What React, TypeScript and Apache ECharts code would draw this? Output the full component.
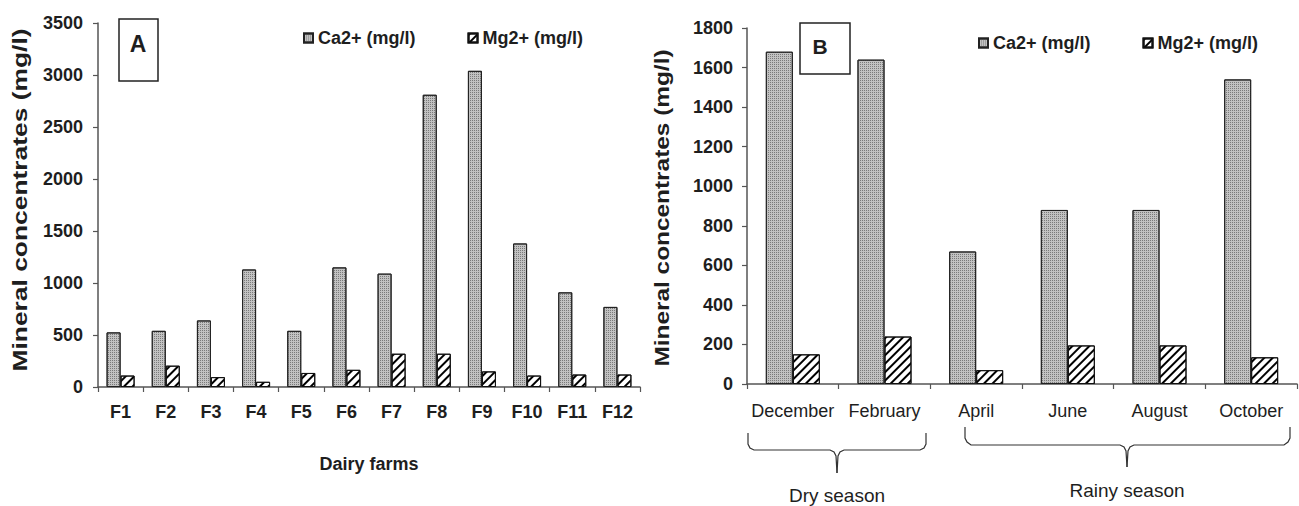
import React, { useEffect, useRef } from "react";
import * as echarts from "echarts";

const farms = ["F1", "F2", "F3", "F4", "F5", "F6", "F7", "F8", "F9", "F10", "F11", "F12"];
const caFarms = [525, 540, 640, 1130, 540, 1150, 1090, 2810, 3040, 1380, 910, 770];
const mgFarms = [110, 205, 95, 50, 135, 165, 320, 320, 150, 110, 120, 120];

const months = ["December", "February", "April", "June", "August", "October"];
const caMonths = [1680, 1640, 670, 880, 880, 1540];
const mgMonths = [150, 240, 70, 195, 195, 135];

const caName = "Ca2+ (mg/l)";
const mgName = "Mg2+ (mg/l)";
const yName = "Mineral concentrates (mg/l)";

const FONT = "'Liberation Sans', Arial, sans-serif";
const TXT = "#1e1e1e";

const caStyle = {
  color: "#c2c2c2",
  borderColor: "#222",
  borderWidth: 1,
  decal: {
    symbol: "rect",
    symbolSize: 1,
    dashArrayX: [1, 1],
    dashArrayY: [1, 1],
    color: "#7a7a7a",
    backgroundColor: null,
  },
};
const mgStyle = {
  color: "#ffffff",
  borderColor: "#111",
  borderWidth: 1,
  decal: {
    symbol: "rect",
    symbolSize: 1,
    dashArrayX: [1, 0],
    dashArrayY: [2, 4],
    rotation: -Math.PI / 4,
    color: "#000",
    backgroundColor: null,
  },
};

const axisLine = { show: true, lineStyle: { color: "#555", width: 1.5 } };
const axisTick = { show: true, length: 5, lineStyle: { color: "#555", width: 1.2 } };
const plain = (v: number) => String(v);

export default function App() {
  const ref = useRef<HTMLDivElement>(null);
  useEffect(() => {
    if (!ref.current) return;
    const chart = echarts.init(ref.current, null, { renderer: "svg" });
    const legendText = { fontSize: 18, fontWeight: "bold", color: TXT, fontFamily: FONT };
    chart.setOption({
      animation: false,
      backgroundColor: "#fff",
      textStyle: { fontFamily: FONT },
      legend: [
        {
          left: 298,
          top: 24,
          icon: "rect",
          itemWidth: 9,
          itemHeight: 9,
          itemGap: 52,
          data: [caName, mgName],
          textStyle: legendText,
        },
        {
          left: 973,
          top: 29,
          icon: "rect",
          itemWidth: 9,
          itemHeight: 9,
          itemGap: 52,
          data: [caName, mgName],
          textStyle: legendText,
        },
      ],
      grid: [
        { left: 98, top: 23, width: 542, height: 364 },
        { left: 747, top: 28, width: 550, height: 356 },
      ],
      xAxis: [
        {
          type: "category",
          gridIndex: 0,
          data: farms,
          axisLine,
          axisTick,
          axisLabel: { interval: 0, fontSize: 18, fontWeight: "bold", color: TXT, margin: 16, fontFamily: FONT },
          name: "Dairy farms",
          nameLocation: "middle",
          nameGap: 68,
          nameTextStyle: { fontSize: 18, fontWeight: "bold", color: TXT, fontFamily: FONT },
        },
        {
          type: "category",
          gridIndex: 1,
          data: months,
          axisLine,
          axisTick,
          axisLabel: { interval: 0, fontSize: 18, color: TXT, margin: 18, fontFamily: FONT },
        },
      ],
      yAxis: [
        {
          type: "value",
          gridIndex: 0,
          min: 0,
          max: 3500,
          interval: 500,
          axisLine,
          axisTick,
          splitLine: { show: false },
          axisLabel: { formatter: plain, fontSize: 18, fontWeight: "bold", color: TXT, margin: 15, fontFamily: FONT },
        },
        {
          type: "value",
          gridIndex: 1,
          min: 0,
          max: 1800,
          interval: 200,
          axisLine,
          axisTick,
          splitLine: { show: false },
          axisLabel: { formatter: plain, fontSize: 18, fontWeight: "bold", color: TXT, margin: 14, fontFamily: FONT },
        },
      ],
      series: [
        {
          type: "bar",
          name: caName,
          xAxisIndex: 0,
          yAxisIndex: 0,
          data: caFarms,
          barWidth: 14,
          barGap: "0%",
          itemStyle: caStyle,
        },
        {
          type: "bar",
          name: mgName,
          xAxisIndex: 0,
          yAxisIndex: 0,
          data: mgFarms,
          barWidth: 14,
          barGap: "0%",
          itemStyle: mgStyle,
        },
        {
          type: "bar",
          name: caName,
          xAxisIndex: 1,
          yAxisIndex: 1,
          data: caMonths,
          barWidth: 27,
          barGap: "0%",
          itemStyle: caStyle,
        },
        {
          type: "bar",
          name: mgName,
          xAxisIndex: 1,
          yAxisIndex: 1,
          data: mgMonths,
          barWidth: 27,
          barGap: "0%",
          itemStyle: mgStyle,
        },
      ],
      graphic: [
        {
          type: "text",
          x: 20,
          y: 200,
          rotation: Math.PI / 2,
          scaleX: 1.32,
          style: { text: yName, fontSize: 20, fontWeight: "bold", fill: TXT, fontFamily: FONT, align: "center", verticalAlign: "middle" },
        },
        {
          type: "text",
          x: 662,
          y: 208,
          rotation: Math.PI / 2,
          scaleX: 1.22,
          style: { text: yName, fontSize: 20, fontWeight: "bold", fill: TXT, fontFamily: FONT, align: "center", verticalAlign: "middle" },
        },
        {
          type: "rect",
          shape: { x: 119, y: 19, width: 39, height: 62 },
          style: { fill: "#fff", stroke: "#222", lineWidth: 1.5 },
        },
        {
          type: "text",
          x: 138,
          y: 44,
          style: { text: "A", fontSize: 23, fontWeight: "bold", fill: TXT, fontFamily: FONT, align: "center", verticalAlign: "middle" },
        },
        {
          type: "rect",
          shape: { x: 800, y: 23, width: 50, height: 51 },
          style: { fill: "#fff", stroke: "#222", lineWidth: 1.5 },
        },
        {
          type: "text",
          x: 820,
          y: 46,
          style: { text: "B", fontSize: 21, fontWeight: "bold", fill: TXT, fontFamily: FONT, align: "center", verticalAlign: "middle" },
        },
        {
          type: "polyline",
          shape: { points: [[748, 433], [748, 444], [750, 448], [754, 450], [830, 450], [834, 452], [836, 456], [837, 473]] },
          style: { stroke: "#333", lineWidth: 1.2, fill: null },
        },
        {
          type: "polyline",
          shape: { points: [[926, 433], [926, 444], [924, 448], [920, 450], [844, 450], [840, 452], [838, 456], [837, 473]] },
          style: { stroke: "#333", lineWidth: 1.2, fill: null },
        },
        {
          type: "polyline",
          shape: { points: [[965, 427], [965, 438], [967, 442], [971, 445], [1120, 445], [1124, 447], [1126, 451], [1127, 467]] },
          style: { stroke: "#333", lineWidth: 1.2, fill: null },
        },
        {
          type: "polyline",
          shape: { points: [[1290, 427], [1290, 438], [1288, 442], [1284, 445], [1134, 445], [1130, 447], [1128, 451], [1127, 467]] },
          style: { stroke: "#333", lineWidth: 1.2, fill: null },
        },
        {
          type: "text",
          x: 837,
          y: 495,
          style: { text: "Dry season", fontSize: 19, fill: TXT, fontFamily: FONT, align: "center", verticalAlign: "middle" },
        },
        {
          type: "text",
          x: 1127,
          y: 490,
          style: { text: "Rainy season", fontSize: 19, fill: TXT, fontFamily: FONT, align: "center", verticalAlign: "middle" },
        },
      ],
    });
    return () => chart.dispose();
  }, []);
  return (
    <div
      ref={ref}
      style={{ position: "absolute", left: 0, top: 0, width: 1299, height: 506 }}
    />
  );
}
